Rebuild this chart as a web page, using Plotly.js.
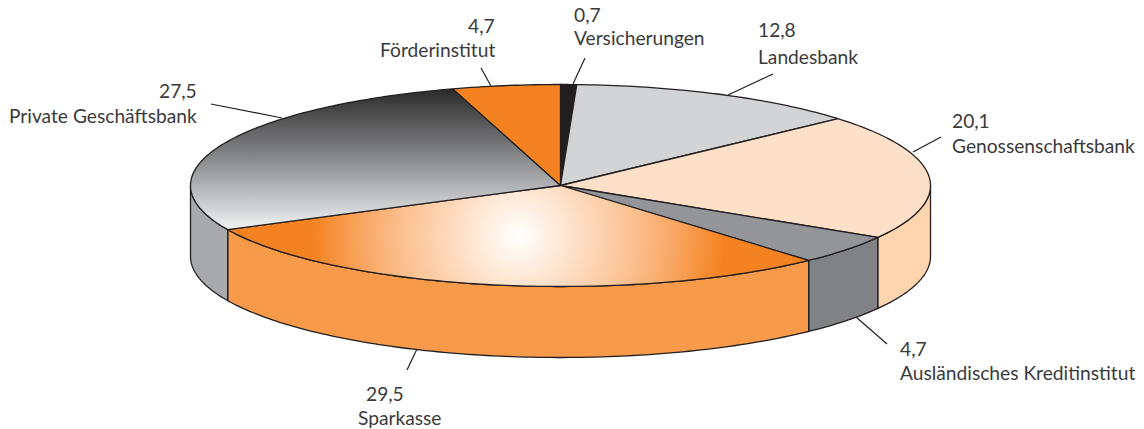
<!DOCTYPE html>
<html><head><meta charset="utf-8">
<script src="https://cdn.plot.ly/plotly-3.0.1.min.js"></script>
<style>html,body{margin:0;padding:0;background:#fff}#chart{width:1144px;height:429px}</style>
</head><body><div id="chart"></div>
<script>
// Data, clockwise from twelve o'clock
const categories = ["Versicherungen","Landesbank","Genossenschaftsbank","Ausländisches Kreditinstitut","Sparkasse","Private Geschäftsbank","Förderinstitut"];
const shares = [0.7,12.8,20.1,4.7,29.5,27.5,4.7];
const valueLabels = ["0,7","12,8","20,1","4,7","29,5","27,5","4,7"];
// Styles
const topColors = ["#231F20","#D1D3D4","#FEE0C8","#939598",null,null,"#F58220"];
const sideColors = ["#231F20","#D1D3D4","#FED5AF","#808285","#F79A4A","#A7A9AC","#F58220"];
const INK = "#231F20", TEXT = "#3a3a3c";
// Ellipse geometry (pixel-like axis units)
const CX = 560.5, CY = 185.5, RX = 370, RY = 101, DEPTH = 71;
const pt = (deg, dy=0) => {
  const t = deg*Math.PI/180;
  return [CX + RX*Math.sin(t), CY - RY*Math.cos(t) + dy];
};
const arc = (a,b,dy=0) => {
  const n = Math.max(2, Math.ceil(Math.abs(b-a)));
  const out = [];
  for(let i=0;i<=n;i++) out.push(pt(a+(b-a)*i/n,dy));
  return out;
};
const unzip = pts => ({x:pts.map(p=>p[0]), y:pts.map(p=>p[1])});

const traces = [];
const base = {type:"scatter",mode:"lines",hoverinfo:"skip",showlegend:false,cliponaxis:false};
const addPoly = (pts, fillcolor, lineWidth, extra={}) => {
  const u = unzip(pts);
  traces.push(Object.assign({},base,{x:u.x,y:u.y,fill:"toself",fillcolor:fillcolor,
    line:{color:INK,width:lineWidth,simplify:false}},extra));
};

// Slice angles
let acc = 0;
const slices = shares.map((s,i)=>{const a=acc*3.6; acc+=s; return {i:i,a:a,b:acc*3.6,name:categories[i]};});

// Side walls: only the front half (90..270 degrees) is visible
slices.forEach(s=>{
  const a=Math.max(s.a,90), b=Math.min(s.b,270);
  if(b<=a) return;
  const ring = arc(a,b).concat(arc(b,a,DEPTH));
  ring.push(ring[0]);
  addPoly(ring, sideColors[s.i], 1.3, {name:s.name+" side"});
});

// Top faces
slices.forEach(s=>{
  const pts = [[CX,CY]].concat(arc(s.a,s.b)).concat([[CX,CY]]);
  if(s.name==="Private Geschäftsbank"){
    addPoly(pts,"rgba(0,0,0,0)",1.3,{name:s.name,fillgradient:{type:"vertical",start:89,stop:231,
      colorscale:[[0,"#2b2a2b"],[0.5,"#8b8c8e"],[1,"#f4f5f5"]]}});
  } else if(s.name==="Sparkasse"){
    // zero-area spurs square the bounding box, so the radial gradient stays round
    const xs = pts.map(p=>p[0]);
    const hw = (Math.max(...xs)-Math.min(...xs))/2;
    const gy = CY+50.5;
    const gx = (Math.max(...xs)+Math.min(...xs))/2;
    const apex = pts[0];
    const spurred = pts.concat([[gx,gy-hw],apex,[gx,gy+hw],apex]);
    addPoly(spurred,"rgba(0,0,0,0)",0,{name:s.name,line:{width:0,simplify:false},fillgradient:{type:"radial",
      colorscale:[[0,"#ffffff"],[0.06,"#fff6ee"],[0.17,"#fee4cf"],[0.4,"#fbc090"],[0.55,"#f8a45e"],[0.71,"#F58220"],[1,"#F58220"]]}});
    const u = unzip(pts);
    traces.push(Object.assign({},base,{x:u.x,y:u.y,line:{color:INK,width:1.3,simplify:false}}));
  } else {
    addPoly(pts, topColors[s.i], 1.3, {name:s.name});
  }
});

// Label places: xName, yName, xValue, yValue, anchor
const labelPlaces = {
 "Versicherungen":[572,37,572,14,"left"],
 "Landesbank":[756,56,756,29,"left"],
 "Genossenschaftsbank":[950,145,950,120,"left"],
 "Ausländisches Kreditinstitut":[898,372,898,348,"left"],
 "Sparkasse":[356,417,364,393,"left"],
 "Private Geschäftsbank":[199,115,199,90,"right"],
 "Förderinstitut":[497,49,497,25,"right"]
};
const leaders = {
 "Versicherungen":[585,58,573,84],
 "Landesbank":[773,74,728,95],
 "Genossenschaftsbank":[941,137,913,152],
 "Ausländisches Kreditinstitut":[856,317,887,344],
 "Sparkasse":[417,349,407,370],
 "Private Geschäftsbank":[211,104,282,118],
 "Förderinstitut":[481,68,491,86]
};
const FONT = {family:"Lato, 'Open Sans', sans-serif",size:19.2,color:TEXT};
const annotations = [];
categories.forEach((c,i)=>{
  const p = labelPlaces[c];
  const mk=(text,x,y)=>({text:text,x:x,y:y,xref:"x",yref:"y",xanchor:p[4],yanchor:"middle",showarrow:false,font:FONT});
  annotations.push(mk(c,p[0],p[1]));
  annotations.push(mk(valueLabels[i],p[2],p[3]));
});
const shapes = categories.map(c=>{
  const l = leaders[c];
  return {type:"line",xref:"x",yref:"y",x0:l[0],y0:l[1],x1:l[2],y1:l[3],line:{color:INK,width:1.2},layer:"below"};
});

const layout = {
  width:1144,height:429,margin:{l:0,r:0,t:0,b:0},
  paper_bgcolor:"#fff",plot_bgcolor:"#fff",showlegend:false,hovermode:false,
  xaxis:{range:[0,1144],visible:false,fixedrange:true},
  yaxis:{range:[429,0],visible:false,fixedrange:true},
  annotations:annotations,shapes:shapes
};
Plotly.newPlot("chart",traces,layout,{displayModeBar:false,staticPlot:true});
</script></body></html>
